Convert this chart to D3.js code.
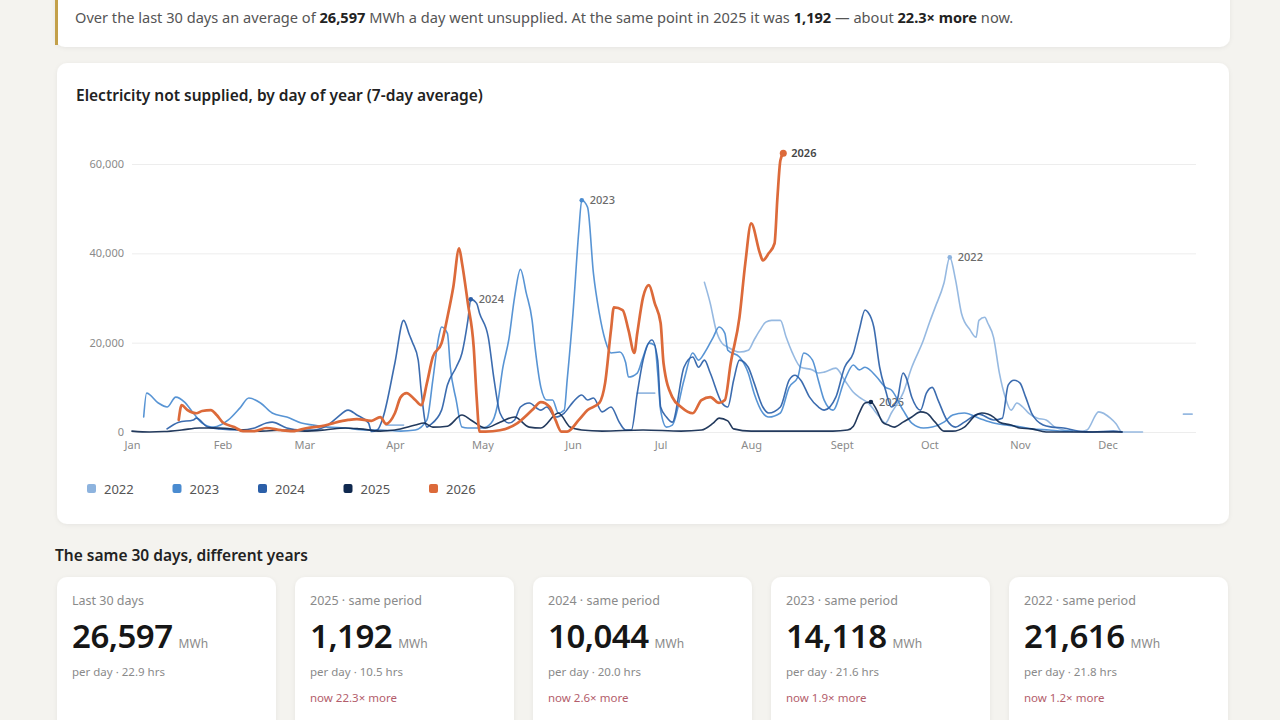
<!DOCTYPE html>
<html>
<head>
<meta charset="utf-8">
<script src="https://cdn.jsdelivr.net/npm/d3@7"></script>
<style>
  html, body { margin: 0; padding: 0; background: #f4f3ef; }
  svg { display: block; font-family: "Noto Sans", sans-serif; }
</style>
</head>
<body>
<svg id="page" width="1280" height="720"></svg>
<script>
// ---- data (day of year, MWh not supplied, 7-day average) ----
const years = ["2022", "2023", "2024", "2025", "2026"];
const yearColors = ["#8db3de", "#4a8bd0", "#2b5fa8", "#10294f", "#dc6a3a"];

// 2022 has gaps (null = no data)
const s2022 = [[87,1550],[93,1550],[94,null],
  [173,8700],[179,8700],[180,null],
  [196,33500],[198,28800],[200,22800],[202,19900],[204,19000],[208,17900],[211,18300],[213,20600],[215,22800],[217,24600],[219,25000],[222,25000],[224,21200],[226,17900],[229,14500],[233,13900],[235,13200],[237,13400],[241,14300],[244,11600],[247,8900],[249,7800],[252,6500],[256,3350],[258,2000],[260,4250],[264,8700],[267,14500],[271,20600],[273,24400],[275,27900],[278,33300],[280,39100],[282,34000],[284,26600],[287,22800],[289,21200],[290,25000],[292,25700],[293,24400],[295,21200],[297,13200],[299,7800],[301,4900],[303,6500],[305,5600],[307,4250],[310,3100],[313,2700],[316,1100],[319,450],[324,0],[327,450],[331,4500],[335,3100],[337,1800],[339,0],[346,0],[347,null],
  [360,4000],[363,4000]];

const s2023 = [[4,3350],[5,8700],[9,6500],[12,5600],[15,7800],[18,6700],[21,4250],[24,2000],[28,1100],[33,2700],[37,5400],[40,7600],[44,6500],[48,4250],[53,3350],[58,2000],[62,1550],[67,1100],[73,900],[80,450],[85,450],[92,200],[97,450],[101,2700],[103,11600],[105,21200],[106,23500],[108,22100],[109,14500],[111,7150],[113,1100],[115,900],[120,900],[123,2000],[125,5600],[127,14500],[129,20600],[131,30200],[133,36400],[135,31100],[137,25000],[138,19000],[140,10000],[142,7150],[144,7150],[146,4250],[148,4900],[149,11600],[151,26600],[153,45100],[154,51900],[156,50300],[158,35500],[160,26600],[162,20600],[164,17700],[167,17900],[169,15600],[170,12300],[173,13200],[175,16800],[177,19900],[179,19400],[180,13200],[181,4900],[183,1100],[185,1550],[189,11600],[192,17700],[194,16100],[196,17700],[199,21200],[201,23500],[203,22100],[204,18300],[208,16800],[211,13200],[213,8700],[216,4250],[218,3350],[222,4250],[225,10000],[228,12300],[230,17700],[233,16100],[235,11600],[237,7150],[240,4900],[244,11600],[247,15000],[249,13900],[251,14500],[255,12300],[258,10000],[260,9400],[264,4900],[267,2000],[271,900],[274,1100],[278,2200],[281,3800],[285,4250],[290,3100],[295,2000],[299,1550],[303,1300],[308,700],[314,450],[319,200],[322,200]];

const s2024 = [[12,700],[16,2200],[21,2700],[22,3100],[26,1100],[30,700],[37,450],[42,900],[46,2000],[48,2200],[53,900],[58,450],[62,450],[67,1550],[70,3100],[74,4900],[77,3800],[81,2000],[82,100],[84,450],[86,3350],[90,15400],[93,25000],[95,21700],[96,20100],[98,16100],[99,9400],[101,1100],[102,1550],[106,4900],[108,10500],[111,14500],[113,17700],[115,25000],[116,29700],[118,28800],[119,26600],[122,21200],[124,11600],[126,4250],[129,2000],[131,2700],[133,5600],[136,6500],[140,4900],[142,5600],[145,3350],[148,4250],[151,6700],[154,8300],[156,7150],[158,7600],[161,4500],[164,5600],[167,2000],[169,450],[171,450],[173,8700],[175,16100],[178,20600],[180,16100],[181,5600],[183,3350],[185,2200],[189,14500],[192,16800],[194,14500],[196,16100],[198,13200],[202,6500],[204,5600],[206,11600],[208,16100],[211,14500],[213,11000],[216,5600],[218,4250],[222,5600],[225,11600],[227,12700],[229,11600],[232,7800],[235,5600],[237,4900],[241,7800],[244,14500],[247,17700],[249,22800],[251,27300],[252,26800],[254,23500],[256,14500],[258,9400],[260,5600],[262,7150],[264,13200],[265,12300],[267,7800],[270,4900],[272,8700],[274,10000],[276,7150],[279,2700],[282,1100],[285,2200],[290,4000],[295,2700],[298,3100],[300,10500],[302,11600],[304,11000],[306,7800],[308,4250],[312,1550],[315,1100],[319,900],[324,200],[329,0],[336,200],[339,0]];

const s2025 = [[0,200],[6,0],[11,100],[17,450],[23,900],[30,900],[37,450],[44,200],[53,450],[59,200],[66,450],[73,900],[78,700],[85,200],[90,450],[97,1550],[100,2000],[103,1100],[108,1300],[113,3800],[116,2700],[121,900],[126,2200],[131,3350],[136,1100],[140,900],[146,4250],[150,1100],[154,450],[161,200],[175,450],[188,200],[195,450],[199,2000],[201,3100],[204,2500],[206,700],[212,200],[226,200],[240,200],[245,450],[247,1300],[249,4250],[251,6500],[253,6700],[255,4900],[257,2200],[259,1550],[261,1100],[264,2200],[267,3350],[270,4500],[272,4250],[275,2200],[278,200],[281,200],[285,1100],[289,3800],[291,4250],[295,3350],[297,2200],[301,1550],[304,900],[308,700],[313,0],[326,0],[339,0]];

const s2026 = [[16,2700],[17,6000],[19,4900],[22,4200],[24,4700],[27,4900],[29,3800],[31,2200],[35,1100],[38,200],[42,200],[46,900],[51,400],[55,200],[60,900],[65,1300],[69,2000],[74,2700],[77,2900],[82,2500],[85,3350],[87,1800],[90,4200],[92,7800],[94,8700],[97,7150],[99,6000],[101,11000],[103,16800],[106,19900],[108,25700],[110,32400],[112,41100],[113,37800],[115,28800],[117,19000],[118,7800],[119,100],[121,100],[126,400],[132,2000],[137,4900],[140,6700],[143,5600],[145,2700],[147,100],[149,100],[153,2700],[156,4900],[160,6500],[162,11000],[164,22800],[165,27900],[168,27300],[170,22800],[172,17700],[173,22100],[175,30200],[177,32900],[179,28800],[181,24400],[182,15400],[185,7800],[188,5600],[192,4200],[195,7150],[198,7800],[201,6500],[203,7150],[205,15400],[208,25700],[210,37800],[212,46700],[215,40000],[216,38400],[218,40000],[220,42200],[221,52500],[222,60800],[223,62400]];

const seriesData = [s2022, s2023, s2024, s2025, s2026];

const monthStarts = [0, 31, 59, 90, 120, 151, 181, 212, 243, 273, 304, 334];
const monthLabels = ["Jan", "Feb", "Mar", "Apr", "May", "Jun", "Jul", "Aug", "Sept", "Oct", "Nov", "Dec"];
const yTicks = [0, 20000, 40000, 60000];

// summary cards
const cardLabels = ["Last 30 days", "2025 · same period", "2024 · same period", "2023 · same period", "2022 · same period"];
const cardValues = [26597, 1192, 10044, 14118, 21616];
const cardHours = [22.9, 10.5, 20.0, 21.6, 21.8];
const cardRatios = [null, 22.3, 2.6, 1.9, 1.2];

// ---- drawing ----
const svg = d3.select("#page");
const fmt = d3.format(",");

const defs = svg.append("defs");
const shadow = defs.append("filter").attr("id", "shadow")
  .attr("x", "-5%").attr("y", "-5%").attr("width", "110%").attr("height", "115%");
shadow.append("feDropShadow").attr("dx", 0).attr("dy", 1).attr("stdDeviation", 2)
  .attr("flood-color", "#000").attr("flood-opacity", 0.06);

// top banner
svg.append("rect").attr("x", 55).attr("y", -12).attr("width", 1175).attr("height", 59)
  .attr("rx", 10).attr("fill", "#fff").attr("filter", "url(#shadow)");
svg.append("rect").attr("x", 55).attr("y", -12).attr("width", 3).attr("height", 57)
  .attr("fill", "#c3a04a");

const banner = svg.append("text").attr("x", 75).attr("y", 23)
  .attr("font-size", 14.6).attr("fill", "#555");
const bannerParts = [
  ["Over the last 30 days an average of ", false],
  [fmt(cardValues[0]), true],
  [" MWh a day went unsupplied. At the same point in 2025 it was ", false],
  [fmt(cardValues[1]), true],
  [" — about ", false],
  [cardRatios[1] + "× more", true],
  [" now.", false]
];
bannerParts.forEach(([t, b]) => {
  banner.append("tspan").text(t)
    .attr("font-weight", b ? 700 : 400)
    .attr("fill", b ? "#222" : "#555");
});

// chart card
svg.append("rect").attr("x", 57).attr("y", 63).attr("width", 1172).attr("height", 461)
  .attr("rx", 10).attr("fill", "#fff").attr("filter", "url(#shadow)");
svg.append("text").attr("x", 76).attr("y", 101)
  .attr("font-size", 15.5).attr("font-weight", 600).attr("fill", "#222")
  .text("Electricity not supplied, by day of year (7-day average)");

const x = d3.scaleLinear().domain([0, 365]).range([132, 1198]);
const y = d3.scaleLinear().domain([0, 60000]).range([432, 164]);

// y axis + grid
const yAxis = svg.append("g").attr("transform", "translate(132,0)")
  .call(d3.axisLeft(y).tickValues(yTicks).tickFormat(fmt).tickSize(-1064).tickPadding(8));
yAxis.select(".domain").remove();
yAxis.selectAll(".tick line").attr("stroke", "#ededed");
yAxis.selectAll(".tick text").attr("fill", "#8a8a8a").attr("font-size", 11)
  .attr("font-family", "Noto Sans, sans-serif");

// x axis
const xAxis = svg.append("g").attr("transform", "translate(0,432)")
  .call(d3.axisBottom(x).tickValues(monthStarts).tickFormat((d, i) => monthLabels[i]).tickSize(0).tickPadding(9));
xAxis.select(".domain").remove();
xAxis.selectAll(".tick text").attr("fill", "#8a8a8a").attr("font-size", 11)
  .attr("font-family", "Noto Sans, sans-serif");

const line = d3.line()
  .defined(d => d[1] !== null)
  .x(d => x(d[0]))
  .y(d => y(d[1]))
  .curve(d3.curveMonotoneX);

// peak labels (under lines)
const peaks = seriesData.map((s, i) => {
  const valid = s.filter(d => d[1] !== null);
  const p = valid[d3.maxIndex(valid, d => d[1])];
  return { year: years[i], color: yearColors[i], day: p[0], value: p[1], i };
});
svg.append("g").selectAll("text").data(peaks).join("text")
  .attr("x", d => x(d.day) + 8)
  .attr("y", d => y(d.value) + 4)
  .attr("font-size", 11)
  .attr("font-weight", d => d.year === "2026" ? 600 : 500)
  .attr("fill", d => d.year === "2026" ? "#444" : "#6a6a6a")
  .text(d => d.year);

svg.append("g").selectAll("path").data(seriesData).join("path")
  .attr("d", line)
  .attr("fill", "none")
  .attr("stroke", (d, i) => yearColors[i])
  .attr("stroke-width", (d, i) => i === 4 ? 2.7 : 1.6)
  .attr("stroke-linejoin", "round")
  .attr("stroke-linecap", "round")
  .attr("opacity", (d, i) => i === 4 ? 1 : 0.92);

svg.append("g").selectAll("circle").data(peaks).join("circle")
  .attr("cx", d => x(d.day))
  .attr("cy", d => y(d.value))
  .attr("r", d => d.year === "2026" ? 3.5 : 2.3)
  .attr("fill", d => d.color);

// legend
const legend = svg.append("g").selectAll("g").data(years).join("g")
  .attr("transform", (d, i) => `translate(${87 + i * 85.5},489)`);
legend.append("rect").attr("x", 0).attr("y", -5).attr("width", 9).attr("height", 9)
  .attr("rx", 2).attr("fill", (d, i) => yearColors[i]);
legend.append("text").attr("x", 17).attr("y", 4.5)
  .attr("font-size", 13).attr("fill", "#555").text(d => d);

// section heading
svg.append("text").attr("x", 55).attr("y", 561)
  .attr("font-size", 15.5).attr("font-weight", 600).attr("fill", "#222")
  .text("The same 30 days, different years");

// cards
const cards = svg.append("g").selectAll("g").data(cardValues).join("g")
  .attr("transform", (d, i) => `translate(${57 + i * 238},577)`);
cards.append("rect").attr("width", 219).attr("height", 170).attr("rx", 10)
  .attr("fill", "#fff").attr("filter", "url(#shadow)");
cards.append("text").attr("x", 15).attr("y", 28)
  .attr("font-size", 12.5).attr("fill", "#8a8a8a").text((d, i) => cardLabels[i]);
cards.append("text").attr("class", "big").attr("x", 15).attr("y", 71)
  .attr("font-size", 33).attr("font-weight", 600).attr("fill", "#161616")
  .attr("letter-spacing", -0.5).text(d => fmt(d));
cards.each(function () {
  const g = d3.select(this);
  const w = g.select("text.big").node().getComputedTextLength();
  g.append("text").attr("x", 15 + w + 6).attr("y", 71)
    .attr("font-size", 12).attr("fill", "#8a8a8a").text("MWh");
});
cards.append("text").attr("x", 15).attr("y", 99)
  .attr("font-size", 11.5).attr("fill", "#8a8a8a")
  .text((d, i) => "per day · " + d3.format(".1f")(cardHours[i]) + " hrs");
cards.filter((d, i) => cardRatios[i] !== null).append("text").attr("x", 15).attr("y", 125)
  .attr("font-size", 11.5).attr("fill", "#b35d6b")
  .text(d => "now " + cardRatios[cardValues.indexOf(d)] + "× more");
</script>
</body>
</html>
